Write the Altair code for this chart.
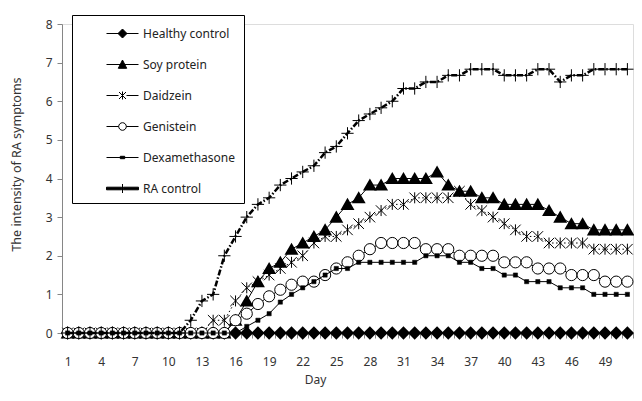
import altair as alt
import pandas as pd

days = list(range(1, 52))

series_names = ["Healthy control", "Soy protein", "Daidzein", "Genistein", "Dexamethasone", "RA control"]

healthy = [0, 0, 0, 0, 0, 0, 0, 0, 0, 0, 0, 0, 0, 0, 0, 0, 0, 0, 0, 0, 0, 0, 0, 0, 0, 0,
           0, 0, 0, 0, 0, 0, 0, 0, 0, 0, 0, 0, 0, 0, 0, 0, 0, 0, 0, 0, 0, 0, 0, 0, 0]

soy = [0, 0, 0, 0, 0, 0, 0, 0, 0, 0, 0, 0, 0, 0, 0,
       0.33, 0.83, 1.33, 1.67, 1.83, 2.17, 2.33, 2.5, 2.67, 3.0, 3.33, 3.5, 3.83, 3.83,
       4.0, 4.0, 4.0, 4.0, 4.17, 3.83, 3.67, 3.67, 3.5, 3.5, 3.33, 3.33, 3.33, 3.33,
       3.17, 3.0, 2.83, 2.83, 2.67, 2.67, 2.67, 2.67]

daidzein = [0, 0, 0, 0, 0, 0, 0, 0, 0, 0, 0, 0, 0,
            0.33, 0.33, 0.83, 1.17, 1.33, 1.5, 1.67, 1.83, 2.0, 2.33, 2.5, 2.5, 2.67, 2.83,
            3.0, 3.17, 3.33, 3.33, 3.5, 3.5, 3.5, 3.5, 3.67, 3.33, 3.17, 3.0, 2.83, 2.67,
            2.5, 2.5, 2.33, 2.33, 2.33, 2.33, 2.17, 2.17, 2.17, 2.17]

genistein = [0, 0, 0, 0, 0, 0, 0, 0, 0, 0, 0, 0, 0, 0, 0,
             0.33, 0.5, 0.75, 0.95, 1.12, 1.25, 1.33, 1.33, 1.5, 1.67, 1.83, 2.0, 2.17,
             2.33, 2.33, 2.33, 2.33, 2.17, 2.17, 2.17, 2.0, 2.0, 2.0, 2.0, 1.83, 1.83, 1.83,
             1.67, 1.67, 1.67, 1.5, 1.5, 1.5, 1.33, 1.33, 1.33]

dexamethasone = [0, 0, 0, 0, 0, 0, 0, 0, 0, 0, 0, 0, 0, 0, 0, 0,
                 0.17, 0.33, 0.5, 0.8, 1.0, 1.17, 1.33, 1.5, 1.67, 1.67, 1.83, 1.83, 1.83,
                 1.83, 1.83, 1.83, 2.0, 2.0, 2.0, 1.83, 1.83, 1.67, 1.67, 1.5, 1.5, 1.33,
                 1.33, 1.33, 1.17, 1.17, 1.17, 1.0, 1.0, 1.0, 1.0]

ra_control = [0, 0, 0, 0, 0, 0, 0, 0, 0, 0, 0,
              0.33, 0.83, 1.0, 2.0, 2.5, 3.0, 3.33, 3.5, 3.83, 4.0, 4.17, 4.33, 4.67, 4.83,
              5.17, 5.5, 5.67, 5.83, 6.0, 6.33, 6.33, 6.5, 6.5, 6.67, 6.67, 6.83, 6.83, 6.83,
              6.67, 6.67, 6.67, 6.83, 6.83, 6.5, 6.67, 6.67, 6.83, 6.83, 6.83, 6.83]

y_ticks = [0, 1, 2, 3, 4, 5, 6, 7, 8]
x_label_days = [1, 4, 7, 10, 13, 16, 19, 22, 25, 28, 31, 34, 37, 40, 43, 46, 49]

all_values = [healthy, soy, daidzein, genistein, dexamethasone, ra_control]
rows = []
for name, vals in zip(series_names, all_values):
    for d, v in zip(days, vals):
        rows.append({"series": name, "day": d, "value": v})
df = pd.DataFrame(rows)

# tick marks at category boundaries, labels at category centres
x_tick_values = sorted(set([d - 0.5 for d in days] + [days[-1] + 0.5] + x_label_days))

FONT = "Noto Sans"
AX = "#868686"

x_axis = alt.Axis(
    values=x_tick_values,
    labelExpr="(datum.value % 3 == 1) ? datum.label : ''",
    tickOpacity={"condition": {"test": "datum.value % 1 == 0", "value": 0}, "value": 1},
    labelOverlap=False,
    labelFlush=False,
    grid=False,
    domainColor=AX,
    tickColor=AX,
    tickSize=5,
    labelPadding=18,
    labelFontSize=12,
    labelColor="#333333",
    labelFont=FONT,
    title="Day",
    titleFont=FONT,
    titleFontSize=12,
    titleFontWeight="normal",
    titleColor="#333333",
    titleX=253,
    titleY=46,
    titleBaseline="middle",
)

y_axis = alt.Axis(
    values=y_ticks,
    grid=False,
    domainColor=AX,
    tickColor=AX,
    tickSize=5,
    labelPadding=5,
    labelFontSize=12,
    labelColor="#333333",
    labelFont=FONT,
    title="The intensity of RA symptoms",
    titleFont=FONT,
    titleFontSize=12.5,
    titleFontWeight="normal",
    titleColor="#333333",
    titleX=-46,
    titleY=140,
    titleBaseline="middle",
)

x_enc = alt.X("day:Q", scale=alt.Scale(domain=[0.5, 51.5], nice=False, zero=False), axis=x_axis)
y_enc = alt.Y("value:Q", scale=alt.Scale(domain=[0, 8], nice=False), axis=y_axis)

STAR = "M-1,-1L1,1M-1,1L1,-1M0,-1.05L0,1.05"
PLUS = "M-1,0L1,0M0,-1L0,1"

styles = {
    "Healthy control": dict(line=dict(strokeWidth=1),
                            pt=dict(shape="diamond", filled=True, fill="black", stroke="black", size=110)),
    "Soy protein": dict(line=dict(strokeWidth=1),
                        pt=dict(shape="triangle-up", filled=True, fill="black", stroke="black", size=110)),
    "Daidzein": dict(line=dict(strokeWidth=1, strokeDash=[1.5, 2.5]),
                     pt=dict(shape=STAR, filled=False, stroke="black", strokeWidth=1, size=110)),
    "Genistein": dict(line=dict(strokeWidth=1),
                      pt=dict(shape="circle", filled=True, fill="white", stroke="black", strokeWidth=1, size=125)),
    "Dexamethasone": dict(line=dict(strokeWidth=1),
                          pt=dict(shape="square", filled=True, fill="black", stroke="black", strokeWidth=0.5, size=18)),
    "RA control": dict(line=dict(strokeWidth=2.5, strokeDash=[6, 2, 1.5, 2]),
                       pt=dict(shape=PLUS, filled=False, stroke="black", strokeWidth=1, size=150)),
}

layers = []
for name in series_names:
    st = styles[name]
    base = alt.Chart(df).transform_filter(alt.datum.series == name)
    layers.append(base.mark_line(color="black", **st["line"]).encode(x=x_enc, y=y_enc))
    layers.append(base.mark_point(opacity=1, **st["pt"]).encode(x=x_enc, y=y_enc))

# legend-only layer: symbols combine the line and the marker
legend_paths = [
    "M-1.6,0L1.6,0M0,-0.45L0.45,0L0,0.45L-0.45,0Z",
    "M-1.6,0L1.6,0M0,-0.45L0.42,0.38L-0.42,0.38Z",
    "M-1.6,0L-0.4,0M0.4,0L1.6,0M-0.35,-0.35L0.35,0.35M-0.35,0.35L0.35,-0.35M0,-0.4L0,0.4",
    "M-1.6,0L-0.38,0M0.38,0L1.6,0M0.38,0A0.38,0.38 0 1 1 -0.38,0A0.38,0.38 0 1 1 0.38,0Z",
    "M-1.6,0L1.6,0M-0.22,-0.12L0.22,-0.12L0.22,0.12L-0.22,0.12Z",
    "M-1.6,-0.13L-0.08,-0.13L-0.08,0.13L-1.6,0.13ZM0.08,-0.13L1.6,-0.13L1.6,0.13L0.08,0.13ZM0,-0.45L0,0.45",
]
legend_fills = ["black", "black", "black", "white", "black", "black"]
legend_strokes = ["black", "black", "black", "black", "black", "black"]

leg = alt.Legend(
    orient="none",
    legendX=10,
    legendY=-9,
    title=None,
    strokeColor="black",
    fillColor="white",
    padding=8,
    symbolSize=400,
    symbolOffset=32,
    symbolStrokeWidth=1,
    labelOffset=10,
    rowPadding=14,
    labelFont=FONT,
    labelFontSize=12,
    labelColor="#222222",
    cornerRadius=0,
)

legend_df = pd.DataFrame({"entry": series_names})
legend_layer = alt.Chart(legend_df).mark_point(filled=True, opacity=1).encode(
    shape=alt.Shape("entry:N", scale=alt.Scale(domain=series_names, range=legend_paths), legend=leg),
    fill=alt.Fill("entry:N", scale=alt.Scale(domain=series_names, range=legend_fills), legend=leg),
    stroke=alt.Stroke("entry:N", scale=alt.Scale(domain=series_names, range=legend_strokes), legend=leg),
).transform_filter("false")

chart = alt.layer(*layers, legend_layer).properties(
    width=571,
    height=309,
    padding={"left": 54, "top": 16, "right": 1, "bottom": 60},
    autosize=alt.AutoSizeParams(type="none"),
    background="white",
).configure_view(stroke=None).configure(font=FONT)

chart.save("out.html", embed_options={"renderer": "svg", "actions": False})
